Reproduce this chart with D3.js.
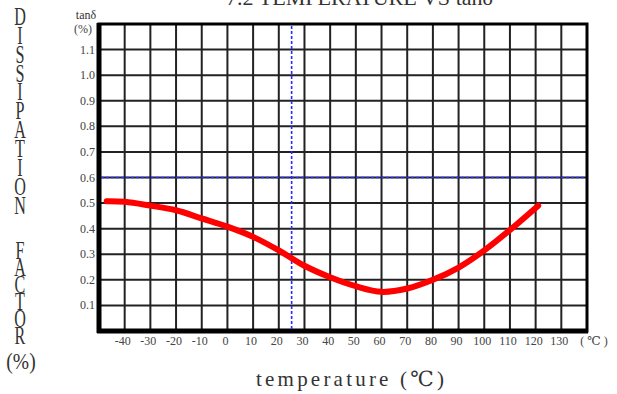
<!DOCTYPE html>
<html><head><meta charset="utf-8">
<script src="https://cdn.jsdelivr.net/npm/d3@7"></script>
<style>body{margin:0;background:#fff}svg{display:block}</style>
</head><body>
<script>
const temps  = [-47, -40, -30, -20, -10, 0, 10, 20, 30, 40, 50, 60, 70, 80, 90, 100, 110, 121];
const tanD   = [0.507, 0.505, 0.49, 0.472, 0.44, 0.408, 0.368, 0.315, 0.255, 0.21, 0.175, 0.153, 0.166, 0.2, 0.248, 0.315, 0.395, 0.49];
const xTicks = [-40,-30,-20,-10,0,10,20,30,40,50,60,70,80,90,100,110,120,130];
const yTicks = [0.1,0.2,0.3,0.4,0.5,0.6,0.7,0.8,0.9,1.0,1.1];
const refTemp = 25, refTan = 0.6;
const leftTitle1 = "DISSIPATION";
const leftTitle2 = "FACTOR";

const W = 617, H = 394;
const svg = d3.select("body").append("svg").attr("width", W).attr("height", H);
const x = d3.scaleLinear().domain([-50, 140]).range([99, 587]);
const y = d3.scaleLinear().domain([0, 1.2]).range([331, 24]);
const serif = "'Liberation Serif','DejaVu Serif',serif";

// grid
const gx = d3.range(-50, 141, 10), gy = d3.range(0, 1.21, 0.1);
svg.append("g").selectAll("line").data(gx).join("line")
  .attr("x1", d => x(d)).attr("x2", d => x(d)).attr("y1", y(1.2)).attr("y2", y(0))
  .attr("stroke", "#222").attr("stroke-width", 2);
svg.append("g").selectAll("line").data(gy).join("line")
  .attr("y1", d => y(d)).attr("y2", d => y(d)).attr("x1", x(-50)).attr("x2", x(140))
  .attr("stroke", "#222").attr("stroke-width", 2);
// frame
svg.append("rect").attr("x", x(-50)).attr("y", y(1.2)).attr("width", x(140)-x(-50)).attr("height", y(0)-y(1.2))
  .attr("fill", "none").attr("stroke", "#000").attr("stroke-width", 3);
svg.append("line").attr("x1", x(-50)).attr("x2", x(-50)).attr("y1", y(1.2)-1).attr("y2", y(0)+2).attr("stroke","#000").attr("stroke-width",5);
svg.append("line").attr("x1", x(-50)-2).attr("x2", x(140)+1).attr("y1", y(0)).attr("y2", y(0)).attr("stroke","#000").attr("stroke-width",5);

// reference dashed lines
svg.append("line").attr("x1", x(refTemp)).attr("x2", x(refTemp)).attr("y1", y(1.2)+2).attr("y2", y(0)-2)
  .attr("stroke", "#2a2aff").attr("stroke-width", 1.6).attr("stroke-dasharray", "3,2");
svg.append("line").attr("y1", y(refTan)).attr("y2", y(refTan)).attr("x1", x(-50)+2).attr("x2", x(140)-2)
  .attr("stroke", "#2a2aff").attr("stroke-width", 1.6).attr("stroke-dasharray", "3,2");

// curve
const pts = temps.map((t, i) => [t, tanD[i]]);
svg.append("path").datum(pts)
  .attr("d", d3.line().x(d => x(d[0])).y(d => y(d[1])).curve(d3.curveCatmullRom))
  .attr("fill", "none").attr("stroke", "#f00").attr("stroke-width", 6).attr("stroke-linecap", "round");

// y tick labels
svg.append("g").selectAll("text").data(yTicks).join("text")
  .attr("x", 95).attr("y", d => y(d) + 4).attr("text-anchor", "end")
  .attr("font-family", serif).attr("font-size", 12).attr("fill", "#444")
  .text(d => d.toFixed(1));
svg.append("text").attr("x", 86).attr("y", 19).attr("text-anchor", "middle")
  .attr("font-family", serif).attr("font-size", 12).attr("fill", "#333").text("tanδ");
svg.append("text").attr("x", 83).attr("y", 33).attr("text-anchor", "middle")
  .attr("font-family", serif).attr("font-size", 12).attr("fill", "#444").text("(%)");

// x tick labels
svg.append("g").selectAll("text").data(xTicks).join("text")
  .attr("x", d => x(d) - 2).attr("y", 345).attr("text-anchor", "middle")
  .attr("font-family", serif).attr("font-size", 12).attr("fill", "#444")
  .text(d => d);
svg.append("text").attr("x", 594).attr("y", 345).attr("text-anchor", "middle")
  .attr("font-family", serif).attr("font-size", 12).attr("fill", "#444").text("( ℃ )");

// axis title
svg.append("text").attr("x", 256).attr("y", 386).attr("textLength", 188).attr("lengthAdjust", "spacing")
  .attr("font-family", serif).attr("font-size", 21).attr("fill", "#333").text("temperature (℃)");

// left vertical title: stacked upright letters, one text element per word
function stacked(word, yTop, len) {
  svg.append("text").attr("transform", "translate(20,0) scale(0.62,1)")
    .attr("x", 0).attr("y", yTop)
    .attr("textLength", len).attr("lengthAdjust", "spacing")
    .style("writing-mode", "vertical-rl").style("text-orientation", "upright")
    .attr("font-family", serif).attr("font-size", 26).attr("fill", "#333").text(word);
}
stacked(leftTitle1, 2, 218);
stacked(leftTitle2, 236, 114);
svg.append("text").attr("transform", "translate(21,369) scale(0.85,1)").attr("text-anchor", "middle")
  .attr("font-family", serif).attr("font-size", 23).attr("fill", "#333").text("(%)");

// chart title (cut off at the top)
svg.append("text").attr("x", 226).attr("y", 5).attr("textLength", 267).attr("lengthAdjust", "spacingAndGlyphs")
  .attr("font-family", serif).attr("font-size", 22).attr("fill", "#333").text("7.2  TEMPERATURE VS tanδ");
</script>
</body></html>
